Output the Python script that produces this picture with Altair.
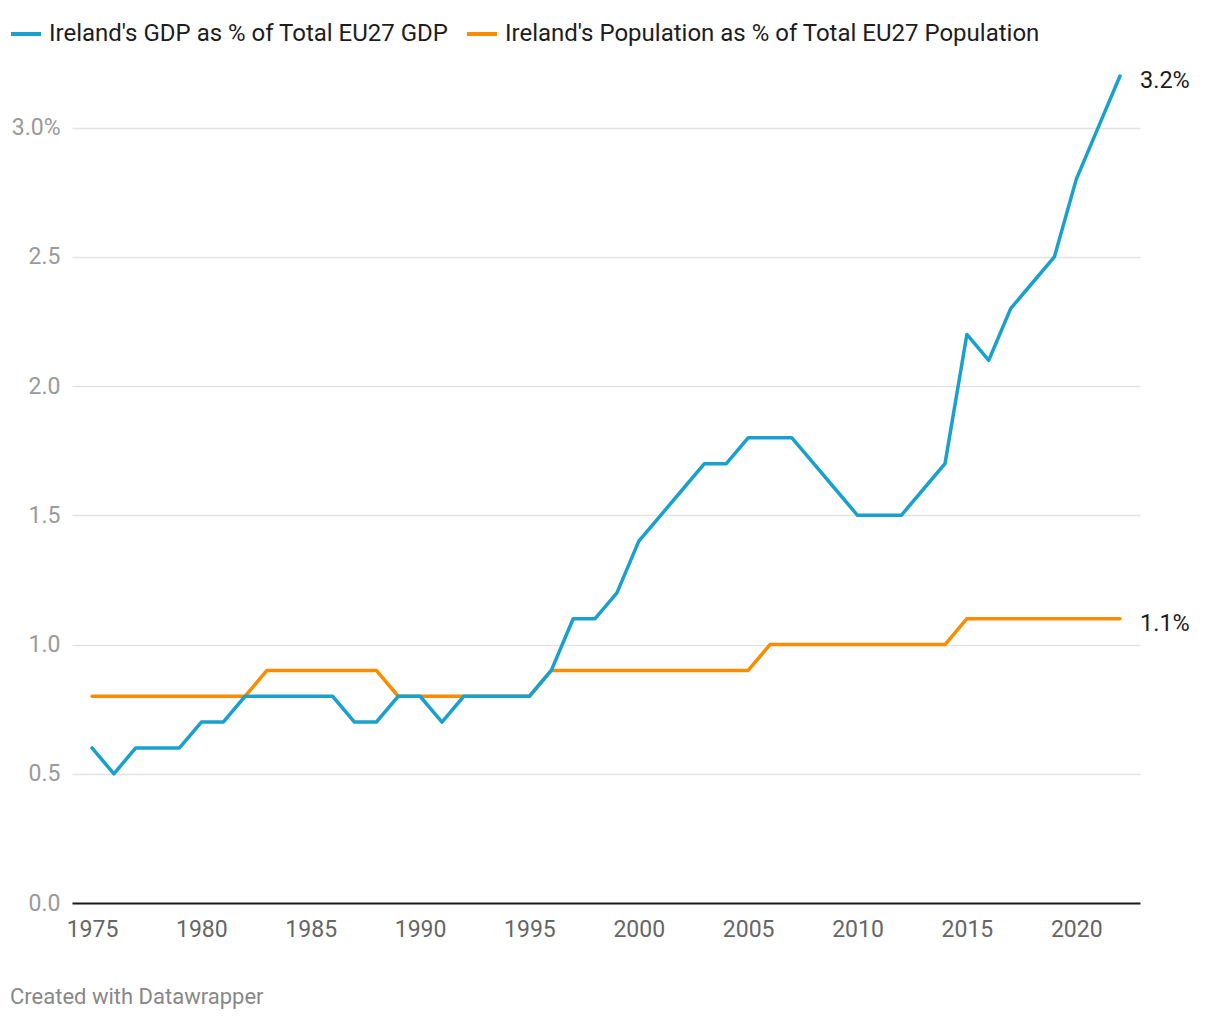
import altair as alt
import pandas as pd

years = list(range(1975, 2023))
gdp_share = [0.6, 0.5, 0.6, 0.6, 0.6, 0.7, 0.7, 0.8, 0.8, 0.8,
             0.8, 0.8, 0.7, 0.7, 0.8, 0.8, 0.7, 0.8, 0.8, 0.8,
             0.8, 0.9, 1.1, 1.1, 1.2, 1.4, 1.5, 1.6, 1.7, 1.7,
             1.8, 1.8, 1.8, 1.7, 1.6, 1.5, 1.5, 1.5, 1.6, 1.7,
             2.2, 2.1, 2.3, 2.4, 2.5, 2.8, 3.0, 3.2]
pop_share = [0.8, 0.8, 0.8, 0.8, 0.8, 0.8, 0.8, 0.8, 0.9, 0.9,
             0.9, 0.9, 0.9, 0.9, 0.8, 0.8, 0.8, 0.8, 0.8, 0.8,
             0.8, 0.9, 0.9, 0.9, 0.9, 0.9, 0.9, 0.9, 0.9, 0.9,
             0.9, 1.0, 1.0, 1.0, 1.0, 1.0, 1.0, 1.0, 1.0, 1.0,
             1.1, 1.1, 1.1, 1.1, 1.1, 1.1, 1.1, 1.1]
series_names = ["Ireland's GDP as % of Total EU27 GDP",
                "Ireland's Population as % of Total EU27 Population"]
series_colors = ["#18a1cd", "#fa8c00"]
end_labels = ["3.2%", "1.1%"]

rows = []
for y, g, p in zip(years, gdp_share, pop_share):
    rows.append({"year": y, "value": g, "series": series_names[0]})
    rows.append({"year": y, "value": p, "series": series_names[1]})
df = pd.DataFrame(rows)

ends = pd.DataFrame({
    "year": [years[-1], years[-1]],
    "value": [gdp_share[-1], pop_share[-1]],
    "label": end_labels,
})

FONT = "Roboto"

x = alt.X("year:Q",
          scale=alt.Scale(domain=[1974.085, 2022.915], nice=False, zero=False),
          axis=alt.Axis(values=list(range(1975, 2021, 5)), format="d", title=None,
                        grid=False, ticks=False, domain=True, domainColor="#1d1d1d",
                        domainWidth=2, labelFont=FONT, labelFontSize=23,
                        labelColor="#666666", labelPadding=15, labelFlush=False))
y = alt.Y("value:Q",
          scale=alt.Scale(domain=[0, 3.2], nice=False),
          axis=alt.Axis(values=[0, 0.5, 1.0, 1.5, 2.0, 2.5, 3.0], title=None,
                        labelExpr="datum.value == 3 ? '3.0%' : format(datum.value, '.1f')",
                        grid=True, gridColor="#e3e3e3", gridWidth=1.5,
                        ticks=False, domain=False, labelFont=FONT, labelFontSize=23,
                        labelColor="#9a9a9a", labelPadding=12))

color = alt.Color("series:N",
                  scale=alt.Scale(domain=series_names, range=series_colors),
                  legend=alt.Legend(title=None, orient="none", legendX=-63, legendY=-59,
                                    direction="horizontal", symbolType="stroke",
                                    symbolSize=900, symbolStrokeWidth=4,
                                    labelFont=FONT, labelFontSize=24,
                                    labelColor="#1d1d1d", labelOffset=6,
                                    columnPadding=10, padding=0, labelLimit=800))

pop_line = alt.Chart(df).transform_filter(
    alt.datum.series == series_names[1]
).mark_line(strokeWidth=3.5, strokeCap="round", strokeJoin="round").encode(
    x=x, y=y, color=color)

gdp_line = alt.Chart(df).transform_filter(
    alt.datum.series == series_names[0]
).mark_line(strokeWidth=3.5, strokeCap="round", strokeJoin="round").encode(
    x=x, y=y, color=color)

labels = alt.Chart(ends).mark_text(align="left", baseline="middle", dx=20, dy=5,
                                   font=FONT, fontSize=23.5, color="#1d1d1d").encode(
    x=alt.X("year:Q"), y=alt.Y("value:Q"), text="label:N")

credit = alt.Chart(pd.DataFrame({"t": ["Created with Datawrapper"]})).mark_text(
    align="left", baseline="middle", font=FONT, fontSize=22, color="#888888"
).encode(x=alt.value(-62), y=alt.value(921), text="t:N")

chart = alt.layer(pop_line, gdp_line, labels, credit).properties(
    width=1068, height=827,
    background="white",
    autosize=alt.AutoSizeParams(type="none"),
    padding={"left": 64, "top": 68, "right": 72, "bottom": 110},
).configure_view(strokeWidth=0, stroke=None)

chart.save("out.html", embed_options={"renderer": "svg", "actions": False})
